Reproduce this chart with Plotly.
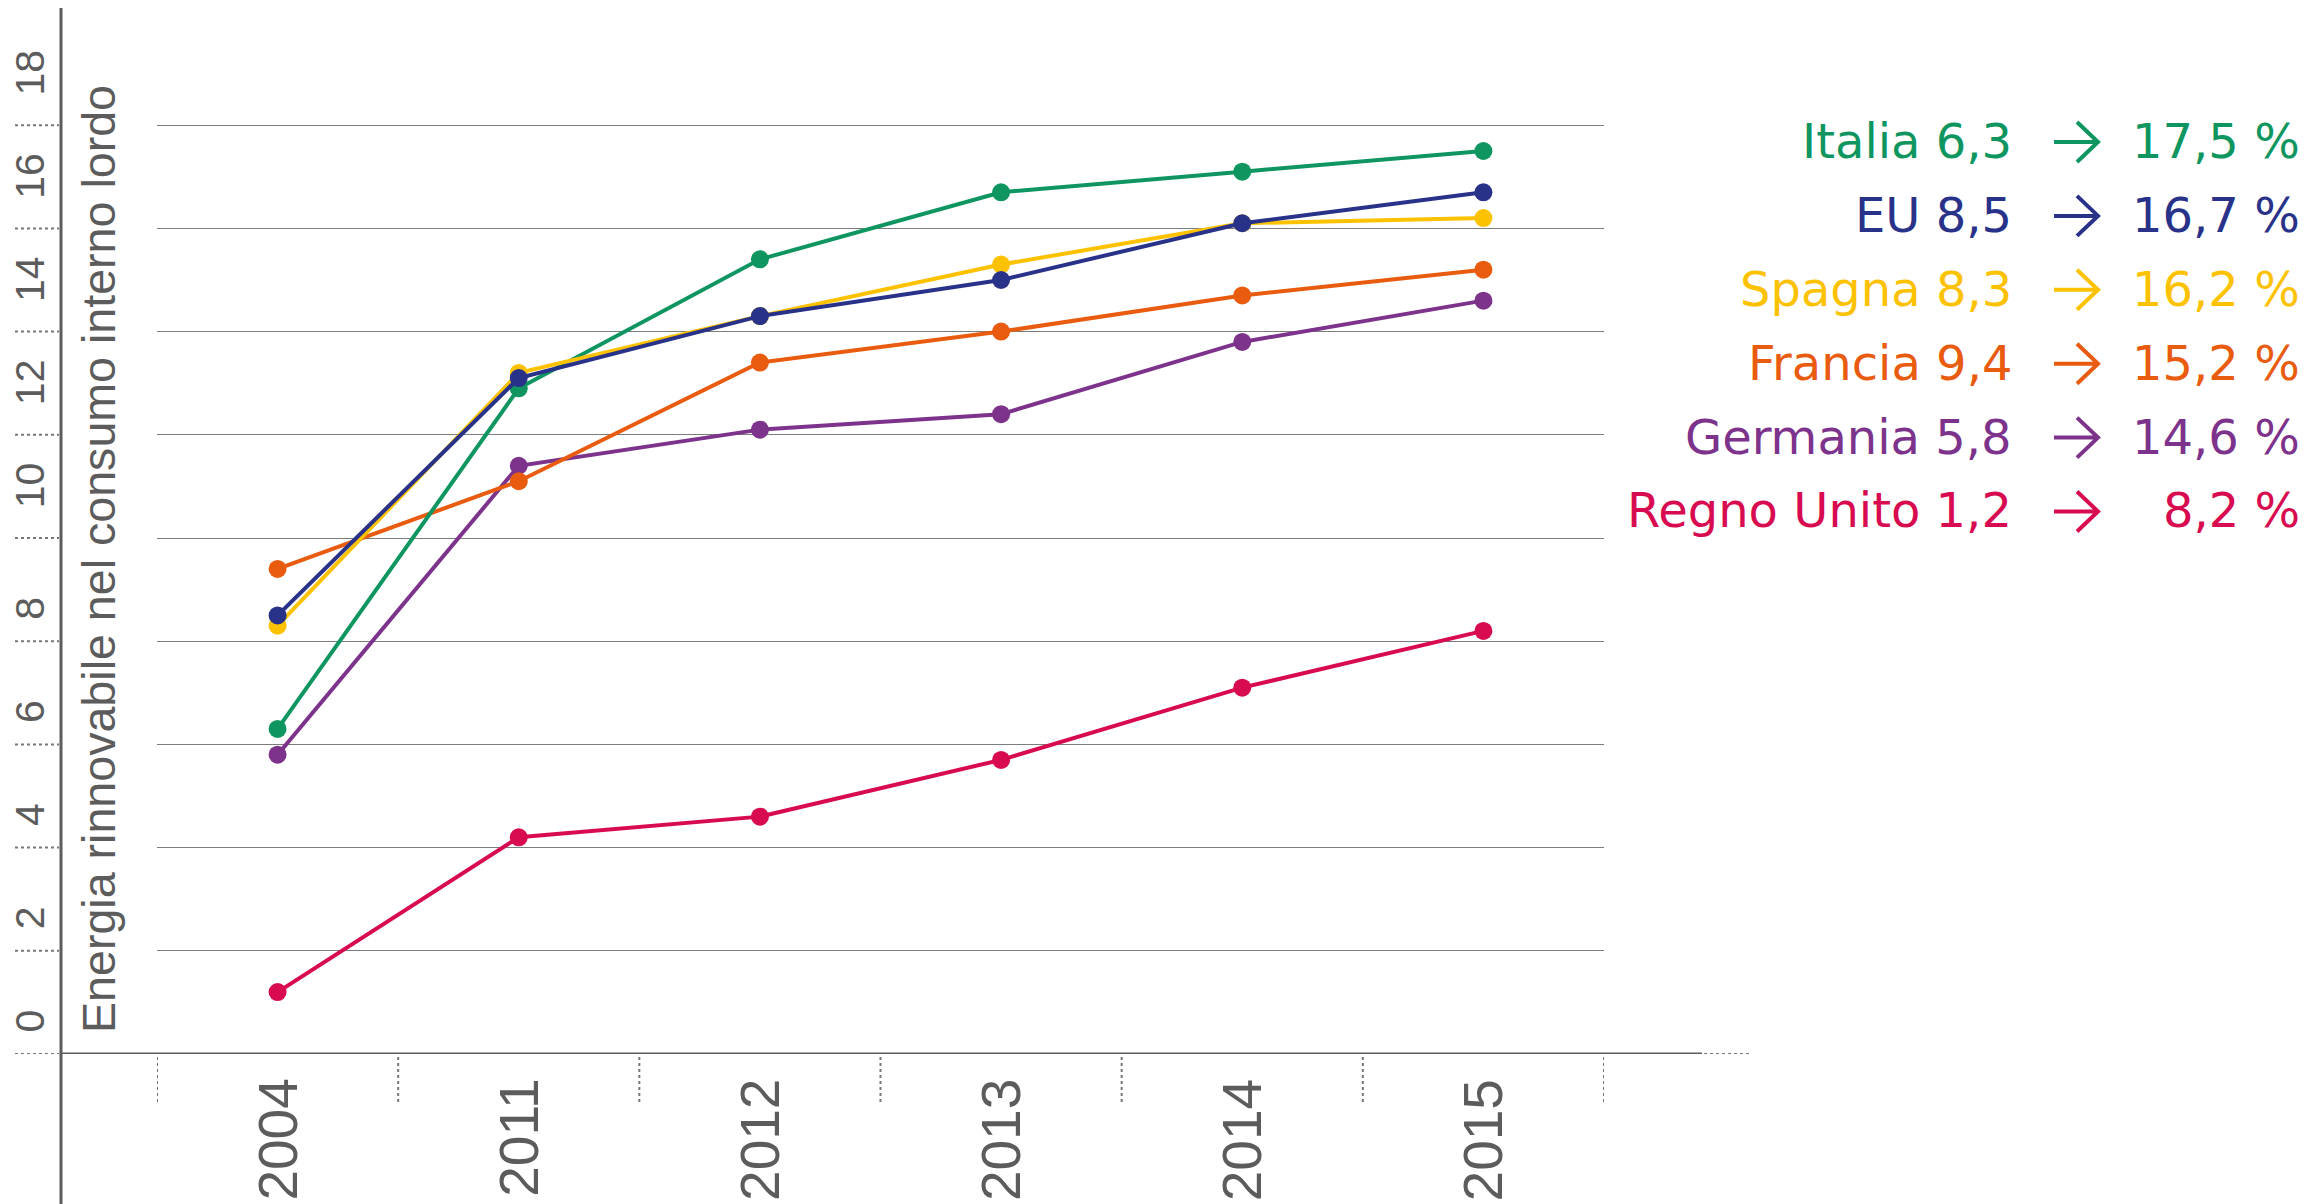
import plotly.graph_objects as go

years = ["2004", "2011", "2012", "2013", "2014", "2015"]
countries = ["Regno Unito", "Germania", "Francia", "Italia", "Spagna", "EU"]
italia = [6.3, 12.9, 15.4, 16.7, 17.1, 17.5]
eu = [8.5, 13.1, 14.3, 15.0, 16.1, 16.7]
spagna = [8.3, 13.2, 14.3, 15.3, 16.1, 16.2]
francia = [9.4, 11.1, 13.4, 14.0, 14.7, 15.2]
germania = [5.8, 11.4, 12.1, 12.4, 13.8, 14.6]
regno_unito = [1.2, 4.2, 4.6, 5.7, 7.1, 8.2]
series = {"Italia": italia, "EU": eu, "Spagna": spagna, "Francia": francia,
          "Germania": germania, "Regno Unito": regno_unito}
colors = {"Italia": "#0f9660", "EU": "#283289", "Spagna": "#fcc200",
          "Francia": "#e95b0f", "Germania": "#7d338b", "Regno Unito": "#d80b50"}
legend_order = ["Italia", "EU", "Spagna", "Francia", "Germania", "Regno Unito"]
y_ticks = [0, 2, 4, 6, 8, 10, 12, 14, 16, 18]
y_title = "Energia rinnovabile nel consumo interno lordo"

W, H = 2307, 1204
OFF = 8  # page body margin
L, R, T, B = 157 - OFF, 1604 - OFF, 22 - OFF, 1054 - OFF
GREY = "#5c5c5c"
SANS = "Liberation Sans, Arial, sans-serif"
LEGF = "DejaVu Sans, Verdana, sans-serif"

def px_x(p):
    # p is a page pixel position
    return (p - OFF - L) / (R - L)

def px_y(p):
    return (B - (p - OFF)) / (B - T)

fig = go.Figure()
for name in countries:
    fig.add_trace(go.Scatter(
        x=years, y=series[name], name=name, mode="lines+markers",
        line=dict(color=colors[name], width=4),
        marker=dict(color=colors[name], size=18),
        hoverinfo="x+y+name", showlegend=False, cliponaxis=False))

shapes = []
shapes.append(dict(type="line", xref="paper", yref="paper",
                   x0=px_x(61), x1=px_x(61), y0=px_y(0), y1=px_y(1212),
                   line=dict(color=GREY, width=3)))
shapes.append(dict(type="line", xref="paper", yref="y",
                   x0=px_x(61), x1=px_x(1702), y0=0, y1=0,
                   line=dict(color=GREY, width=3)))
shapes.append(dict(type="line", xref="paper", yref="y",
                   x0=px_x(1704), x1=px_x(1751), y0=0, y1=0,
                   line=dict(color="#777777", width=2, dash="dot")))
for v in y_ticks:
    shapes.append(dict(type="line", xref="paper", yref="y",
                       x0=px_x(15), x1=px_x(59), y0=v, y1=v,
                       line=dict(color="#777777", width=2, dash="dot")))
for i in range(len(years) + 1):
    shapes.append(dict(type="line", xref="x", yref="paper",
                       x0=i - 0.5, x1=i - 0.5, y0=px_y(1057), y1=px_y(1102),
                       line=dict(color="#777777", width=2, dash="dot")))

ann = []
for v in y_ticks:
    yc = v + (1.02 if v >= 10 else 0.63)
    ann.append(dict(text=str(v), xref="paper", yref="y", x=px_x(30), y=yc,
                    textangle=-90, showarrow=False, xanchor="center", yanchor="middle",
                    font=dict(size=41, color=GREY, family=SANS)))
ann.append(dict(text="%", xref="paper", yref="y", x=px_x(30), y=-0.62,
                textangle=-90, showarrow=False, xanchor="center", yanchor="middle",
                font=dict(size=41, color=GREY, family=SANS)))
ann.append(dict(text=y_title, xref="paper", yref="paper", x=px_x(99), y=px_y(1035),
                textangle=-90, showarrow=False, xanchor="center", yanchor="bottom",
                font=dict(size=46.6, color=GREY, family=SANS)))
for i, yr in enumerate(years):
    ann.append(dict(text=yr, xref="x", yref="paper", x=i, y=px_y(1077),
                    textangle=-90, showarrow=False, xanchor="center", yanchor="top",
                    font=dict(size=55, color=GREY, family=SANS)))

cap_centers = [140, 213.9, 287.8, 361.7, 435.6, 509.5]
fmt = lambda v: f"{v:.1f}".replace(".", ",")
for name, cy in zip(legend_order, cap_centers):
    vals = series[name]
    f = dict(size=48, color=colors[name], family=LEGF)
    ann.append(dict(text=f"{name} {fmt(vals[0])}", xref="paper", yref="paper",
                    x=px_x(2014), y=px_y(cy + 1), xanchor="right", yanchor="middle",
                    showarrow=False, font=f))
    ann.append(dict(text=f"{fmt(vals[-1])} %", xref="paper", yref="paper",
                    x=px_x(2302), y=px_y(cy + 1), xanchor="right", yanchor="middle",
                    showarrow=False, font=f))
    ay = cy + 2
    path = (f"M {px_x(2054)},{px_y(ay)} L {px_x(2098)},{px_y(ay)} "
            f"M {px_x(2077)},{px_y(ay - 20)} L {px_x(2098)},{px_y(ay)} "
            f"L {px_x(2077)},{px_y(ay + 20)}")
    shapes.append(dict(type="path", xref="paper", yref="paper", path=path,
                       line=dict(color=colors[name], width=4)))

fig.update_layout(
    width=W, height=H,
    margin=dict(l=L, r=W - R, t=T, b=H - B, pad=0),
    plot_bgcolor="white", paper_bgcolor="white",
    shapes=shapes, annotations=ann,
    xaxis=dict(type="category", range=[-0.5, 5.5], showgrid=False, showticklabels=False,
               zeroline=False, showline=False, ticks=""),
    yaxis=dict(range=[0, 20], tickvals=[2, 4, 6, 8, 10, 12, 14, 16, 18],
               showgrid=True, gridcolor="#7c7c7c", gridwidth=1,
               showticklabels=False, zeroline=False, showline=False, ticks=""),
)

fig.write_html("out.html")
